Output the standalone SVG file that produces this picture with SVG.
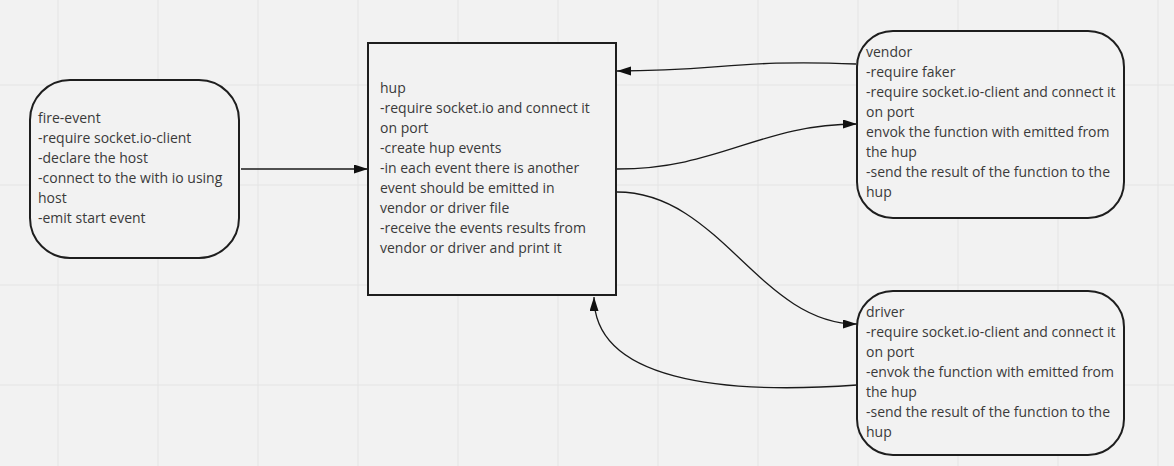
<svg xmlns="http://www.w3.org/2000/svg" width="1174" height="466" viewBox="0 0 1174 466">
<defs>
<style>
.bg{fill:#f2f2f2}
.grid line{stroke:#e4e4e4;stroke-width:1}
.node{fill:#f2f2f2;stroke:#1e1e1e;stroke-width:2}
.t{font-family:"Open Sans","Liberation Sans",sans-serif;font-size:14px;fill:#3a3a3a}
.conn path{fill:none;stroke:#1a1a1a;stroke-width:1.3}
</style>
<marker id="arr" markerUnits="userSpaceOnUse" markerWidth="16" markerHeight="10" refX="14" refY="4.5" orient="auto">
<path d="M0,0 L14,4.5 L0,9 z" fill="#111"/>
</marker>
</defs>
<rect class="bg" x="0" y="0" width="1174" height="466"/>
<g class="grid">
<line x1="58" y1="0" x2="58" y2="466"/>
<line x1="158" y1="0" x2="158" y2="466"/>
<line x1="258" y1="0" x2="258" y2="466"/>
<line x1="358" y1="0" x2="358" y2="466"/>
<line x1="458" y1="0" x2="458" y2="466"/>
<line x1="558" y1="0" x2="558" y2="466"/>
<line x1="658" y1="0" x2="658" y2="466"/>
<line x1="758" y1="0" x2="758" y2="466"/>
<line x1="858" y1="0" x2="858" y2="466"/>
<line x1="958" y1="0" x2="958" y2="466"/>
<line x1="1058" y1="0" x2="1058" y2="466"/>
<line x1="1158" y1="0" x2="1158" y2="466"/>
<line x1="0" y1="85" x2="1174" y2="85"/>
<line x1="0" y1="185" x2="1174" y2="185"/>
<line x1="0" y1="285" x2="1174" y2="285"/>
<line x1="0" y1="385" x2="1174" y2="385"/>
</g>
<g class="conn">
<path d="M241,169 L368,169" marker-end="url(#arr)"/>
<path d="M856,64 C740,59 720,71 617,71" marker-end="url(#arr)"/>
<path d="M617,169 C720,169 760,124 857,124" marker-end="url(#arr)"/>
<path d="M617,192 C720,192 760,324 857,324" marker-end="url(#arr)"/>
<path d="M857,385 C720,395 594,380 594,297" marker-end="url(#arr)"/>
</g>
<g id="fire-event">
<rect class="node" x="30" y="80" width="209" height="178" rx="40" ry="40"/>
<text class="t" x="38">
<tspan x="38" y="123">fire-event</tspan>
<tspan x="38" y="143">-require socket.io-client</tspan>
<tspan x="38" y="163">-declare the host</tspan>
<tspan x="38" y="183">-connect to the with io using</tspan>
<tspan x="38" y="203">host</tspan>
<tspan x="38" y="223">-emit start event</tspan>
</text>
</g>
<g id="hup">
<rect class="node" x="368" y="43" width="248" height="252"/>
<text class="t">
<tspan x="380" y="93">hup</tspan>
<tspan x="380" y="113">-require socket.io and connect it</tspan>
<tspan x="380" y="133">on port</tspan>
<tspan x="380" y="153">-create hup events</tspan>
<tspan x="380" y="173">-in each event there is another</tspan>
<tspan x="380" y="193">event should be emitted in</tspan>
<tspan x="380" y="213">vendor or driver file</tspan>
<tspan x="380" y="233">-receive the events results from</tspan>
<tspan x="380" y="253">vendor or driver and print it</tspan>
</text>
</g>
<g id="vendor">
<rect class="node" x="857" y="31" width="267" height="187" rx="36" ry="36"/>
<text class="t">
<tspan x="866" y="57">vendor</tspan>
<tspan x="866" y="77">-require faker</tspan>
<tspan x="866" y="97">-require socket.io-client and connect it</tspan>
<tspan x="866" y="117">on port</tspan>
<tspan x="866" y="137">envok the function with emitted from</tspan>
<tspan x="866" y="157">the hup</tspan>
<tspan x="866" y="177">-send the result of the function to the</tspan>
<tspan x="866" y="197">hup</tspan>
</text>
</g>
<g id="driver">
<rect class="node" x="857" y="291" width="267" height="164" rx="36" ry="36"/>
<text class="t">
<tspan x="866" y="317">driver</tspan>
<tspan x="866" y="337">-require socket.io-client and connect it</tspan>
<tspan x="866" y="357">on port</tspan>
<tspan x="866" y="377">-envok the function with emitted from</tspan>
<tspan x="866" y="397">the hup</tspan>
<tspan x="866" y="417">-send the result of the function to the</tspan>
<tspan x="866" y="437">hup</tspan>
</text>
</g>
</svg>
